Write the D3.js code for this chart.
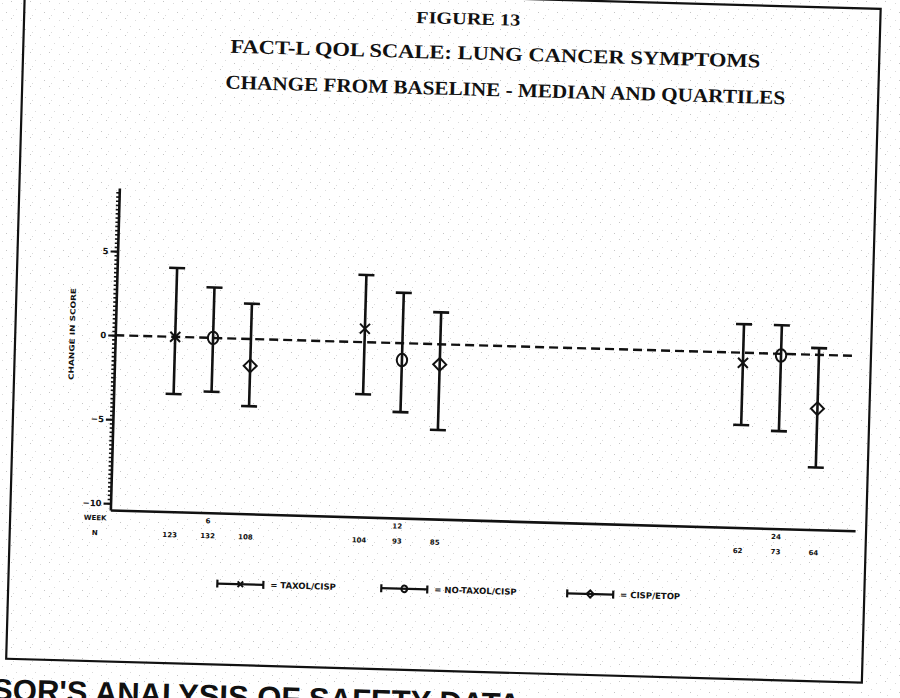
<!DOCTYPE html>
<html>
<head>
<meta charset="utf-8">
<script src="https://cdn.jsdelivr.net/npm/d3@7"></script>
<style>
  html, body { margin: 0; padding: 0; background: #fff; }
  svg { display: block; }
</style>
</head>
<body>
<div id="vis"></div>
<script>
/* Data */
const weeks      = [6, 12, 24];
const weekLabels = ["6", "12", "24"];
const seriesNames = ["TAXOL/CISP", "NO-TAXOL/CISP", "CISP/ETOP"];
const markerTypes = ["x", "circle", "diamond"];

const medians = [
  [0.0,  0.8, -0.6],
  [0.0, -1.0, -0.1],
  [-1.6, -1.2, -3.2]
];
const lowerQ = [
  [-3.4, -3.1, -4.3],
  [-3.2, -4.1, -4.6],
  [-4.0, -5.1, -6.7]
];
const upperQ = [
  [4.1, 4.0, 1.7],
  [3.0, 3.0, 1.7],
  [2.1, 1.9, 0.4]
];
const counts = [
  ["123", "104", "62"],
  ["132", "93",  "73"],
  ["108", "85",  "64"]
];
const yTicks = [5, 0, -5, -10];

const titles = [
  "FIGURE 13",
  "FACT-L QOL SCALE: LUNG CANCER SYMPTOMS",
  "CHANGE FROM BASELINE - MEDIAN AND QUARTILES"
];

/* Layout */
const W = 900, H = 698;
const dodge = 1.2;           // weeks between side-by-side bars
const capHalf = 8;
const labelFont = "'DejaVu Sans', sans-serif";

const svg = d3.select("#vis").append("svg")
    .attr("width", W).attr("height", H);

/* scanned paper texture */
const defs = svg.append("defs");
const pat = defs.append("pattern")
    .attr("id", "speckle").attr("patternUnits", "userSpaceOnUse")
    .attr("width", 19).attr("height", 17);
pat.append("rect").attr("width", 19).attr("height", 17).attr("fill", "#fff");
[[2,3],[11,1],[16,9],[6,12],[13,15]].forEach(([px, py], i) =>
  pat.append("rect").attr("x", px).attr("y", py).attr("width", 1).attr("height", 1)
     .attr("fill", i % 2 ? "#c4c4c4" : "#dadada"));
svg.append("rect").attr("width", W).attr("height", H).attr("fill", "url(#speckle)");

/* the page is slightly skewed in the scan */
const page = svg.append("g").attr("transform", "rotate(1.6,450,349)");

/* frame */
page.append("rect")
    .attr("x", 15).attr("y", -3).attr("width", 856).attr("height", 674)
    .attr("fill", "none").attr("stroke", "#111").attr("stroke-width", 2.2);

/* titles */
const titleX = [459, 487, 498], titleY = [24, 59, 95], titleLen = [104, 530, 560];
titles.forEach((t, i) => {
  page.append("text")
      .attr("x", titleX[i]).attr("y", titleY[i])
      .attr("text-anchor", "middle")
      .attr("font-family", "'Liberation Serif', 'Times New Roman', serif")
      .attr("font-weight", "bold")
      .attr("font-size", i === 0 ? 17 : 19.5)
      .attr("textLength", titleLen[i]).attr("lengthAdjust", "spacingAndGlyphs")
      .attr("fill", "#111")
      .text(t);
});

/* scales */
const x = d3.scaleLinear().domain([2.9, 26.5]).range([115, 860]);
const y = d3.scaleLinear().domain([-10.4, 8.76]).range([519.4, 197.3]);

/* y axis: minor then major ticks */
const yMinor = page.append("g").attr("transform", `translate(${x(2.9)},0)`)
    .call(d3.axisLeft(y).tickValues(d3.range(-10, 8.6, 0.25)).tickSize(3).tickSizeOuter(0).tickFormat(""));
yMinor.selectAll(".tick line").attr("stroke", "#111").attr("stroke-width", 1.6);
yMinor.select(".domain").attr("stroke", "#111").attr("stroke-width", 2.6);

const yMajor = page.append("g").attr("transform", `translate(${x(2.9)},0)`)
    .call(d3.axisLeft(y).tickValues(yTicks).tickSize(7).tickSizeOuter(0).tickPadding(2));
yMajor.select(".domain").remove();
yMajor.selectAll(".tick line").attr("stroke", "#111").attr("stroke-width", 2.2);
yMajor.selectAll(".tick text")
    .attr("font-family", labelFont).attr("font-weight", "bold")
    .attr("font-size", 8.5).attr("fill", "#111");

/* x axis */
const xAxis = page.append("g").attr("transform", `translate(0,${y(-10.4)})`)
    .call(d3.axisBottom(x).tickValues([]).tickSizeOuter(0));
xAxis.select(".domain").attr("stroke", "#111").attr("stroke-width", 2.6);

/* y axis title */
page.append("text")
    .attr("transform", `translate(72,${y(0)}) rotate(-90)`)
    .attr("text-anchor", "middle").attr("dy", "0.35em")
    .attr("font-family", labelFont).attr("font-weight", "bold")
    .attr("font-size", 7).attr("textLength", 92).attr("lengthAdjust", "spacingAndGlyphs")
    .attr("fill", "#111")
    .text("CHANGE IN SCORE");

/* reference line at zero */
page.append("line")
    .attr("x1", x(2.9)).attr("x2", x(26.4))
    .attr("y1", y(0)).attr("y2", y(0))
    .attr("stroke", "#111").attr("stroke-width", 2.4)
    .attr("stroke-dasharray", "9,5");

/* markers */
function drawMarker(g, type, cx, cy, s) {
  if (type === "x") {
    const h = 5 * s;
    g.append("path")
      .attr("d", `M${cx-h},${cy-h}L${cx+h},${cy+h}M${cx-h},${cy+h}L${cx+h},${cy-h}`)
      .attr("stroke", "#111").attr("stroke-width", 2).attr("fill", "none");
  } else if (type === "circle") {
    g.append("ellipse").attr("cx", cx).attr("cy", cy)
      .attr("rx", 5.2 * s).attr("ry", 6.2 * s)
      .attr("stroke", "#111").attr("stroke-width", 2).attr("fill", "none");
  } else {
    const h = 6.5 * s;
    g.append("path")
      .attr("d", `M${cx},${cy-h}L${cx+h},${cy}L${cx},${cy+h}L${cx-h},${cy}Z`)
      .attr("stroke", "#111").attr("stroke-width", 2).attr("fill", "none");
  }
}

/* median + quartile bars */
const bars = page.append("g");
seriesNames.forEach((name, si) => {
  weeks.forEach((wk, wi) => {
    const bx = x(wk + (si - 1) * dodge);
    const yt = y(upperQ[si][wi]), yb = y(lowerQ[si][wi]);
    bars.append("line").attr("x1", bx).attr("x2", bx).attr("y1", yt).attr("y2", yb)
        .attr("stroke", "#111").attr("stroke-width", 2.6);
    [yt, yb].forEach(cy => bars.append("line")
        .attr("x1", bx - capHalf).attr("x2", bx + capHalf).attr("y1", cy).attr("y2", cy)
        .attr("stroke", "#111").attr("stroke-width", 2.6));
    drawMarker(bars, markerTypes[si], bx, y(medians[si][wi]), 1);
  });
});

/* week row and N row below axis */
const rowText = (tx, ty, t) => page.append("text")
    .attr("x", tx).attr("y", ty).attr("text-anchor", "middle")
    .attr("font-family", labelFont).attr("font-weight", "bold")
    .attr("font-size", 7).attr("fill", "#111").text(t);

rowText(100, 530, "WEEK");
rowText(100, 545, "N");
weeks.forEach((wk, wi) => {
  rowText(x(wk), 530, weekLabels[wi]);
  seriesNames.forEach((name, si) => rowText(x(wk + (si - 1) * dodge), 545, counts[si][wi]));
});

/* legend */
const legendX = [247, 411, 597], legendY = 590;
seriesNames.forEach((name, si) => {
  const g = page.append("g");
  const cx = legendX[si];
  g.append("line").attr("x1", cx - 23).attr("x2", cx + 23)
      .attr("y1", legendY).attr("y2", legendY)
      .attr("stroke", "#111").attr("stroke-width", 2.2);
  [cx - 23, cx + 23].forEach(ex => g.append("line")
      .attr("x1", ex).attr("x2", ex).attr("y1", legendY - 4).attr("y2", legendY + 4)
      .attr("stroke", "#111").attr("stroke-width", 2.2));
  drawMarker(g, markerTypes[si], cx, legendY, 0.55);
  g.append("text")
      .attr("x", cx + 30).attr("y", legendY).attr("dy", "0.35em")
      .attr("font-family", labelFont).attr("font-weight", "bold")
      .attr("font-size", 8.5).attr("fill", "#111")
      .text("= " + name);
});

/* running header of the next section, cut by the page edge */
page.append("text")
    .attr("x", -86).attr("y", 713)
    .attr("font-family", "'Liberation Sans', Arial, sans-serif")
    .attr("font-weight", "bold").attr("font-size", 31)
    .attr("fill", "#111")
    .text("SPONSOR'S ANALYSIS OF SAFETY DATA");
</script>
</body>
</html>
